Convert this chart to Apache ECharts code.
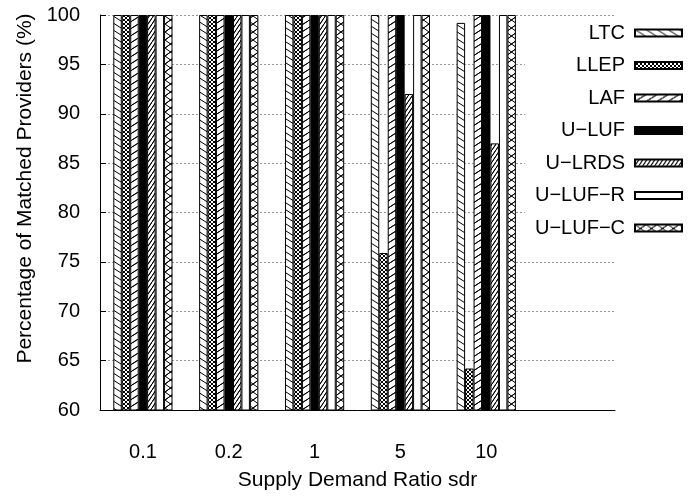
<!DOCTYPE html>
<html>
<head>
<meta charset="utf-8">
<script src="https://cdn.jsdelivr.net/npm/echarts@6/dist/echarts.min.js"></script>
<style>
  html, body { margin: 0; padding: 0; background: #fff; }
  #chart { width: 689px; height: 497px; }
</style>
</head>
<body>
<div id="chart"></div>
<script>
// sdr categories (last slot is left empty like the original plot)
const categories = ['0.1', '0.2', '1', '5', '10', ''];
const seriesNames = ['LTC', 'LLEP', 'LAF', 'U\u2212LUF', 'U\u2212LRDS', 'U\u2212LUF\u2212R', 'U\u2212LUF\u2212C'];

const ltc     = [100, 100, 100, 100, 99.2];
const llep    = [100, 100, 100, 75.9, 64.2];
const laf     = [100, 100, 100, 100, 100];
const uLuf    = [100, 100, 100, 100, 100];
const uLrds   = [100, 100, 100, 92.0, 87.0];
const uLufR   = [100, 100, 100, 100, 100];
const uLufC   = [100, 100, 100, 100, 100];

const seriesData = [ltc, llep, laf, uLuf, uLrds, uLufR, uLufC];

const yTicks = { min: 60, max: 100, step: 5 };

// little tiles for the gnuplot like fill patterns
function tile(w, h, draw) {
  const c = document.createElement('canvas');
  c.width = w; c.height = h;
  const ctx = c.getContext('2d');
  ctx.fillStyle = '#fff';
  ctx.fillRect(0, 0, w, h);
  ctx.strokeStyle = '#000';
  ctx.lineWidth = 1;
  draw(ctx, w, h);
  return c;
}
function line(ctx, x1, y1, x2, y2) {
  ctx.beginPath(); ctx.moveTo(x1, y1); ctx.lineTo(x2, y2); ctx.stroke();
}
// "\" going down-right, repeated with wrap
function back(ctx, w, h) {
  line(ctx, -w, -h, w, h); line(ctx, 0, -h, 2 * w, h); line(ctx, -w, 0, w, 2 * h);
}
function fwd(ctx, w, h) {
  line(ctx, -w, 2 * h, w, 0); line(ctx, 0, h, w, 0); line(ctx, 0, 2 * h, 2 * w, 0);
  line(ctx, -w, h, w, -h);
}

const patterns = [
  tile(11, 7, back),
  tile(4, 4, function (ctx, w, h) { back(ctx, w, h); fwd(ctx, w, h); }),
  tile(11, 7, fwd),
  '#000',
  tile(4, 6, fwd),
  '#fff',
  tile(11, 8, function (ctx, w, h) { back(ctx, w, h); fwd(ctx, w, h); })
];

const font = 'Liberation Sans, Arial, Helvetica, sans-serif';
const fs = 20;

const chart = echarts.init(document.getElementById('chart'), null, { renderer: 'canvas' });

const series = seriesNames.map(function (name, i) {
  const p = patterns[i];
  return {
    name: name,
    type: 'bar',
    data: seriesData[i],
    barGap: '0%',
    barCategoryGap: '31%',
    itemStyle: {
      color: typeof p === 'string' ? p : { image: p, repeat: 'repeat' },
      borderColor: '#000',
      borderWidth: 1
    },
    emphasis: { disabled: true },
    animation: false
  };
});

const option = {
  animation: false,
  backgroundColor: '#fff',
  textStyle: { fontFamily: font },
  grid: { left: 100, right: 74, top: 15, bottom: 87, containLabel: false },
  legend: {
    orient: 'vertical',
    right: 3,
    top: 17,
    align: 'right',
    icon: 'rect',
    itemWidth: 47,
    itemHeight: 7,
    itemGap: 10.5,
    padding: [5, 3, 5, 10],
    backgroundColor: '#fff',
    z: 10,
    textStyle: { fontFamily: font, fontSize: fs, color: '#000', lineHeight: 22, padding: [0, 5, 0, 0] },
    data: seriesNames
  },
  xAxis: {
    type: 'category',
    data: categories,
    name: 'Supply Demand Ratio sdr',
    nameLocation: 'middle',
    nameGap: 60,
    nameTextStyle: { fontFamily: font, fontSize: 21, color: '#000' },
    axisLine: { show: true, lineStyle: { color: '#000', width: 1 } },
    axisTick: { show: false },
    axisLabel: { margin: 32, fontFamily: font, fontSize: fs, color: '#000' },
    splitLine: { show: false }
  },
  yAxis: {
    type: 'value',
    min: yTicks.min,
    max: yTicks.max,
    interval: yTicks.step,
    name: 'Percentage of Matched Providers (%)',
    nameLocation: 'middle',
    nameGap: 54,
    nameTextStyle: { fontFamily: font, fontSize: 21, color: '#000', padding: [0, 0, 0, 48] },
    axisLine: { show: true, lineStyle: { color: '#000', width: 1 } },
    axisTick: { show: true, inside: true, length: 6, lineStyle: { color: '#000' } },
    axisLabel: { margin: 20, fontFamily: font, fontSize: fs, color: '#000' },
    splitLine: { show: true, lineStyle: { color: '#999', type: [2, 2], width: 1 } }
  },
  series: series
};

chart.setOption(option);
</script>
</body>
</html>
